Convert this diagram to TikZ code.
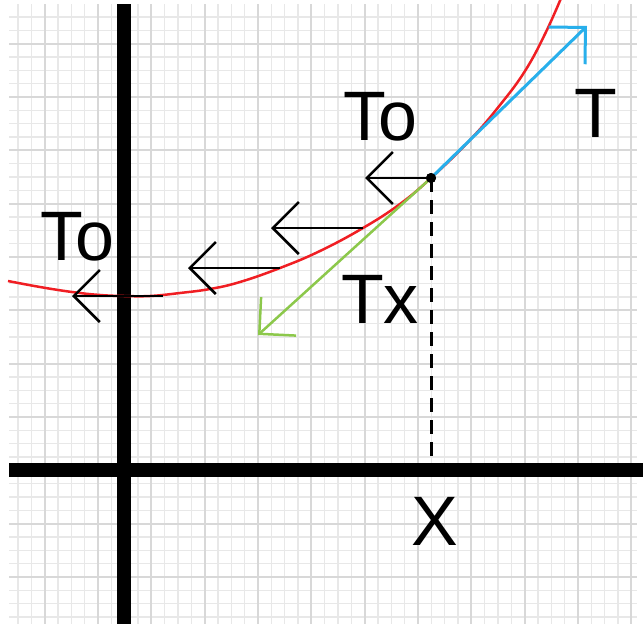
\documentclass[tikz,border=0pt]{standalone}
\usepackage{fontspec}
\setmainfont{Liberation Sans}
\usetikzlibrary{arrows.meta}
\definecolor{curvered}{RGB}{240,30,35}
\definecolor{tanblue}{RGB}{40,175,235}
\definecolor{tangreen}{RGB}{140,200,75}
\definecolor{gridminor}{RGB}{232,232,232}
\definecolor{gridmajor}{RGB}{216,216,216}

\begin{document}
\begin{tikzpicture}[x=1pt, y=-1pt,
  every node/.style={font=\fontsize{70}{70}\selectfont, inner sep=0pt},
  minorline/.style={gridminor, line width=1.5pt},
  majorline/.style={gridmajor, line width=1.8pt},
  axis/.style={black, line width=14pt},
  force/.style={line width=2.5pt, -{Straight Barb[length=26pt, width=52pt]}},
  lbl/.style={anchor=base}
]
  \useasboundingbox[fill=white] (0,0) rectangle (643,624);

  % grid paper
  \begin{scope}
    \clip (9,4) rectangle (637,624);
    \foreach \k in {0,...,46}
      \draw[minorline] ({18+13.333*\k},4) -- ({18+13.333*\k},624);
    \foreach \k in {0,...,46}
      \draw[minorline] (9,{17+13.333*\k}) -- (637,{17+13.333*\k});
    \foreach \k in {2,6,...,46}
      \draw[majorline] ({18+13.333*\k},4) -- ({18+13.333*\k},624);
    \foreach \k in {2,6,...,46}
      \draw[majorline] (9,{17+13.333*\k}) -- (637,{17+13.333*\k});
  \end{scope}

  % axes
  \draw[axis] (124,4) -- (124,624);
  \draw[axis] (9,470) -- (643,470);

  % point on the cable
  \node[circle, fill=black, inner sep=0pt, minimum size=10pt] (P) at (431,178) {};
  \coordinate (Xa) at (431,470);
  \draw[line width=3pt, dash pattern=on 14pt off 8pt] (P.center) -- (Xa);

  % cable
  \draw[curvered, line width=2.5pt] plot[smooth, tension=0.7] coordinates {
    (8,281) (40,287) (72,292) (100,295) (124,296) (150,296) (180,293)
    (210,289) (240,282) (280,268) (320,251) (363,228) (400,204) (431,178)
    (470,140) (500,105) (525,71) (545,34) (562,-4)};

  % tensions
  \coordinate (tT) at (587,26);
  \coordinate (tTx) at (258,335);
  \draw[force, tangreen] (P.center) -- (tTx);
  \draw[force, tanblue, line width=3pt] (P.center) -- (tT);

  \coordinate (s1) at (363,228);
  \coordinate (s2) at (280,268);
  \coordinate (s3) at (163,296);
  \coordinate (e0) at (365,178);
  \coordinate (e1) at (271,228);
  \coordinate (e2) at (188,268);
  \coordinate (e3) at (72,296);
  \draw[force] (P.center) -- (e0);
  \draw[force] (s1) -- (e1);
  \draw[force] (s2) -- (e2);
  \draw[force] (s3) -- (e3);
  \node[circle, fill=black, inner sep=0pt, minimum size=10pt] at (P) {};

  % labels
  \node[lbl] (to1) at (380,140) {To};
  \node[lbl] (to2) at (77,260) {To};
  \node[lbl] (tl) at (596,137) {T};
  \node[lbl] (txl) at (380,323) {Tx};
  \node[lbl] (xl) at (435,545) {X};
\end{tikzpicture}
\end{document}
